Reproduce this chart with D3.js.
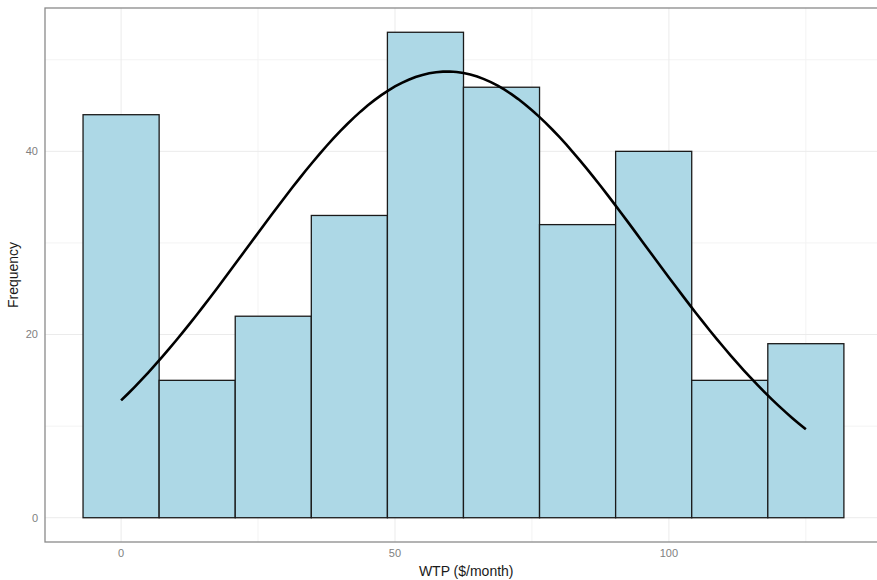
<!DOCTYPE html>
<meta charset="utf-8">
<style>
body { margin: 0; background: #fff; }
svg { display: block; font-family: "Liberation Sans", Arial, sans-serif; }
.grid line { stroke: #ebebeb; }
.grid .minor { stroke: #f3f3f3; }
.tick-label { fill: #808080; font-size: 11px; }
.axis-title { fill: #1a1a1a; font-size: 14px; }
</style>
<svg width="877" height="580"></svg>
<script src="https://d3js.org/d3.v7.min.js"></script>
<script>

// bin centres (WTP $/month) and counts
var binCenters = [0, 13.89, 27.78, 41.67, 55.56, 69.44, 83.33, 97.22, 111.11, 125];
var counts = [44, 15, 22, 33, 53, 47, 32, 40, 15, 19];
var binWidth = 13.89;
var xTicks = [0, 50, 100];
var xMinor = [25, 75, 125];
var yTicks = [0, 20, 40];
var yMinor = [10, 30, 50];
// fitted normal curve parameters
var curveMean = 59.5, curveSd = 36.4;
var curveFrom = 0, curveTo = 125;

var svg = d3.select("svg"),
    pLeft = 45, pTop = 8, pRight = 882, pBottom = 542;

var x = d3.scaleLinear().domain([-13.89, 138.9]).range([pLeft, pRight]);
var y = d3.scaleLinear().domain([-2.65, 55.65]).range([pBottom, pTop]);

var g = svg.append("g").attr("class", "grid");
g.selectAll(".minor.y").data(yMinor).enter().append("line")
    .attr("class", "minor y")
    .attr("x1", pLeft).attr("x2", pRight)
    .attr("y1", d => y(d)).attr("y2", d => y(d));
g.selectAll(".minor.x").data(xMinor).enter().append("line")
    .attr("class", "minor x")
    .attr("y1", pTop).attr("y2", pBottom)
    .attr("x1", d => x(d)).attr("x2", d => x(d));
g.selectAll(".major.y").data(yTicks).enter().append("line")
    .attr("class", "major y")
    .attr("x1", pLeft).attr("x2", pRight)
    .attr("y1", d => y(d)).attr("y2", d => y(d));
g.selectAll(".major.x").data(xTicks).enter().append("line")
    .attr("class", "major x")
    .attr("y1", pTop).attr("y2", pBottom)
    .attr("x1", d => x(d)).attr("x2", d => x(d));

svg.selectAll("rect.bar")
  .data(binCenters)
  .enter().append("rect")
    .attr("class", "bar")
    .attr("x", d => x(d - binWidth / 2))
    .attr("width", d => x(d + binWidth / 2) - x(d - binWidth / 2))
    .attr("y", (d, i) => y(counts[i]))
    .attr("height", (d, i) => y(0) - y(counts[i]))
    .attr("fill", "#add8e6")
    .attr("stroke", "#1a1a1a")
    .attr("stroke-width", 1.3);

var n = d3.sum(counts);
var scaleK = n * binWidth / (curveSd * Math.sqrt(2 * Math.PI));
var pts = d3.range(0, 101).map(function(i) {
  var v = curveFrom + (curveTo - curveFrom) * i / 100;
  var z = (v - curveMean) / curveSd;
  return [v, scaleK * Math.exp(-0.5 * z * z)];
});

svg.append("path")
    .datum(pts)
    .attr("fill", "none")
    .attr("stroke", "#000")
    .attr("stroke-width", 2.6)
    .attr("d", d3.line().x(d => x(d[0])).y(d => y(d[1])));

// panel border
svg.append("rect")
    .attr("x", pLeft).attr("y", pTop)
    .attr("width", pRight - pLeft).attr("height", pBottom - pTop)
    .attr("fill", "none")
    .attr("stroke", "#8a8a8a")
    .attr("stroke-width", 1.3);

svg.selectAll(".ylab").data(yTicks).enter().append("text")
    .attr("class", "tick-label")
    .attr("x", 38).attr("y", d => y(d))
    .attr("dy", "0.35em")
    .attr("text-anchor", "end")
    .text(d => d);

svg.selectAll(".xlab").data(xTicks).enter().append("text")
    .attr("class", "tick-label")
    .attr("x", d => x(d)).attr("y", 557)
    .attr("text-anchor", "middle")
    .text(d => d);

svg.append("text")
    .attr("class", "axis-title")
    .attr("x", x(63)).attr("y", 576)
    .attr("text-anchor", "middle")
    .text("WTP ($/month)");

svg.append("text")
    .attr("class", "axis-title")
    .attr("transform", "translate(18," + y(26.5) + ") rotate(-90)")
    .attr("text-anchor", "middle")
    .text("Frequency");

</script>
